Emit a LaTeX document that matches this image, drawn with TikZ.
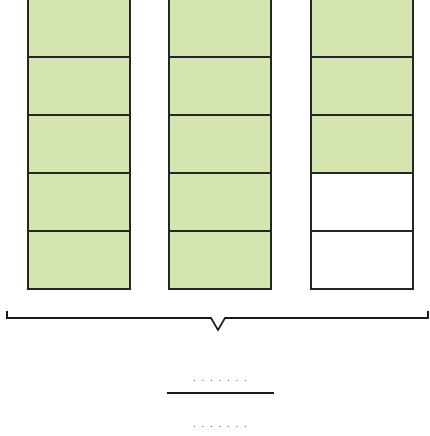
\documentclass[tikz,border=0pt]{standalone}
\usepackage{xcolor}
\usepackage{tikz}
\usetikzlibrary{positioning}
\definecolor{cellgreen}{HTML}{D5E5B0}

\begin{document}
\begin{tikzpicture}[x=1pt,y=-1pt,
  cell/.style={draw=black!85,line width=1.7pt,minimum width=102pt,minimum height=58pt,inner sep=0pt,anchor=north west},
  full/.style={cell,fill=cellgreen},
  empty/.style={cell,fill=white},
  blanks/.style={font=\large,text=black!75,inner sep=0pt}]

\useasboundingbox (0,0) rectangle (429,436);
\clip (0,0) rectangle (429,436);

% Columns of cells
\foreach \r in {0,...,4} {
  \node[full] (a\r) at (27,-2+58*\r) {};
  \node[full] (b\r) at (168,-2+58*\r) {};
}
\foreach \r in {0,1,2} {
  \node[full] (c\r) at (310,-2+58*\r) {};
}
\foreach \r in {3,4} {
  \node[empty] (c\r) at (310,-2+58*\r) {};
}

% Brace under the columns
\draw[line width=1.6pt,black!90] (7,311) -- (7,318) -- (211,318) -- (218,330) -- (225,318) -- (428,318) -- (428,311);

% Fraction with blanks
\node[blanks] (num) at (220,381) {. . . . . . .};
\node[blanks] (den) at (220,427) {. . . . . . .};
\coordinate (barl) at (167,393);
\coordinate (barr) at (274,393);
\draw[line width=2pt,black!90] (barl) -- (barr);

\end{tikzpicture}
\end{document}
